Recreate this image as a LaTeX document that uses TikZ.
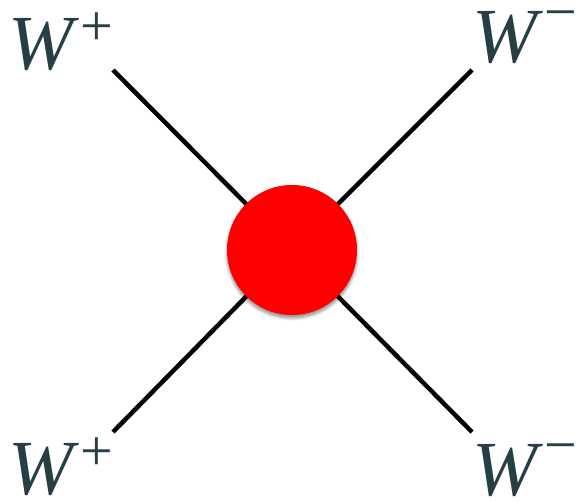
\documentclass[tikz,border=0pt]{standalone}
\usepackage{fontspec}
\setmainfont{Liberation Serif}
\usepackage{xcolor}
\definecolor{cLabel}{HTML}{263E44}
\definecolor{cBlob}{HTML}{FF0000}
\definecolor{cLine}{HTML}{000000}
\usepackage{tikz}
\usetikzlibrary{positioning,backgrounds,shadows.blur}
\tikzset{
  node-blob/.style={circle,fill=cBlob,minimum size=130pt,inner sep=0pt,
    blur shadow={shadow xshift=0pt,shadow yshift=-3pt,shadow blur steps=6,
      shadow blur radius=3pt,shadow opacity=45}},
  node-label/.style={text=cLabel,inner sep=0pt,anchor=base west,
    font=\fontsize{78}{80}\selectfont},
  leg/.style={draw=cLine,line width=4.5pt},
}
% charge as a raised, slightly smaller sign
\newcommand{\wboson}[2]{\textit{W}\kern1pt\raisebox{#2}{\fontsize{58}{60}\selectfont #1}}

\begin{document}
\begin{tikzpicture}[x=1pt,y=-1pt]
  \useasboundingbox (0,0) rectangle (580,500);
  \node[node-blob] (vtx) at (292,250) {};
  \coordinate (in1) at (113,70);
  \coordinate (in2) at (113,432);
  \coordinate (out1) at (472,70);
  \coordinate (out2) at (472,432);
  \node[node-label] (wp-in) at (8,70) {\wboson{+}{24pt}};
  \node[node-label] (wp-out) at (8,494) {\wboson{+}{24pt}};
  \node[node-label] (wm-in) at (472,63) {\wboson{\textminus}{31pt}};
  \node[node-label] (wm-out) at (472,495) {\wboson{\textminus}{31pt}};
  \begin{pgfonlayer}{background}
    \draw[leg] (in1) -- (vtx.center);
    \draw[leg] (in2) -- (vtx.center);
    \draw[leg] (out1) -- (vtx.center);
    \draw[leg] (out2) -- (vtx.center);
  \end{pgfonlayer}
\end{tikzpicture}
\end{document}
